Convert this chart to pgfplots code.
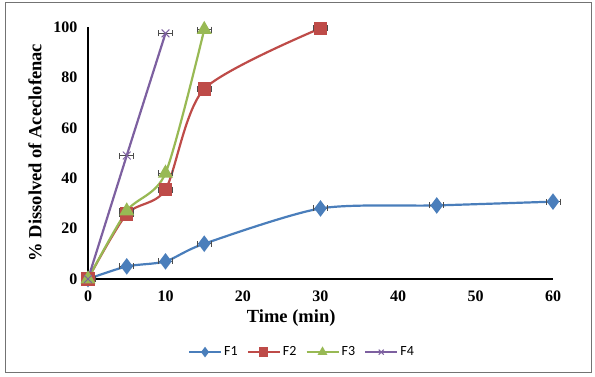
\documentclass[border=0pt]{standalone}
\usepackage{pgfplots}
\pgfplotsset{compat=1.18}
\usepackage{fontspec}
\setmainfont{Liberation Serif}
\newfontfamily\legfont{Carlito}
\definecolor{c1}{HTML}{4A7EBB}
\definecolor{c2}{HTML}{BE4B48}
\definecolor{c3}{HTML}{98B954}
\definecolor{c4}{HTML}{7D60A0}
\pgfplotsset{ebar/.style={draw=none, mark=none, forget plot, smooth=false,
  error bars/x dir=both, error bars/x fixed=0.9,
  error bars/error mark=|,
  error bars/error bar style={line width=0.8pt, black!70},
  error bars/error mark options={line width=0.8pt, black!70, mark size=3pt}}}
\begin{document}
\begin{tikzpicture}[x=1pt,y=1pt]
\useasboundingbox (0,0) rectangle (595,376);
\draw[black!55, line width=1pt] (5,4) rectangle (591,373);
\begin{axis}[
  at={(88pt,97pt)}, anchor=south west,
  scale only axis, width=465pt, height=252pt,
  xmin=0, xmax=60, ymin=0, ymax=100,
  axis x line=bottom, axis y line=left,
  axis line style={line width=2pt,-},
  major tick length=0pt,
  xtick={0,10,...,60}, ytick={0,20,...,100},
  ticklabel style={font=\fontsize{16}{18}\selectfont\bfseries},
  /pgf/number format/assume math mode=true,
  xticklabel style={yshift=-8pt},
  yticklabel style={xshift=-7pt},
  clip=false,
  xlabel={Time (min)},
  ylabel={\% Dissolved of Aceclofenac},
  xlabel style={at={(axis description cs:0.437,-0.155)}, anchor=center, font=\fontsize{18.5}{20}\selectfont\bfseries},
  ylabel style={at={(axis description cs:-0.114,0.502)}, anchor=center, font=\fontsize{18.5}{20}\selectfont\bfseries},
  legend style={at={(axis description cs:0.46,-0.29)}, anchor=center, legend columns=4, draw=none,
    font=\legfont\fontsize{14}{16}\selectfont,
    /tikz/every even column/.append style={column sep=7pt}},
  legend image code/.code={\draw[mark repeat=2,mark phase=2,#1,mark size=3.5pt] plot coordinates {(0pt,0pt) (16pt,0pt) (32pt,0pt)};},
  every axis plot/.append style={line width=2.2pt, smooth, tension=0.45, mark options={solid}},
]
\addplot[c1, mark=diamond*, mark size=6.5pt] coordinates {(0,0) (5,5) (10,7) (15,14) (30,28) (45,29.2) (60,30.7)};
\addlegendentry{F1}
\addplot[ebar] coordinates {(0,0) (5,5) (10,7) (15,14) (30,28) (45,29.2) (60,30.7)};
\addplot[c2, mark=square*, mark size=5.5pt] coordinates {(0,0) (5,25.8) (10,35.5) (15,75.4) (30,99.5)};
\addlegendentry{F2}
\addplot[ebar] coordinates {(0,0) (5,25.8) (10,35.5) (15,75.4) (30,99.5)};
\addplot[c3, mark=triangle*, mark size=6.5pt] coordinates {(0,0) (5,27) (10,42) (15,99)};
\addlegendentry{F3}
\addplot[ebar] coordinates {(0,0) (5,27) (10,42) (15,99)};
\addplot[c4, mark=x, mark size=5.5pt, mark options={line width=1pt}] coordinates {(0,0) (5,49) (10,97.5)};
\addlegendentry{F4}
\addplot[ebar] coordinates {(0,0) (5,49) (10,97.5)};
\end{axis}
\end{tikzpicture}
\end{document}
